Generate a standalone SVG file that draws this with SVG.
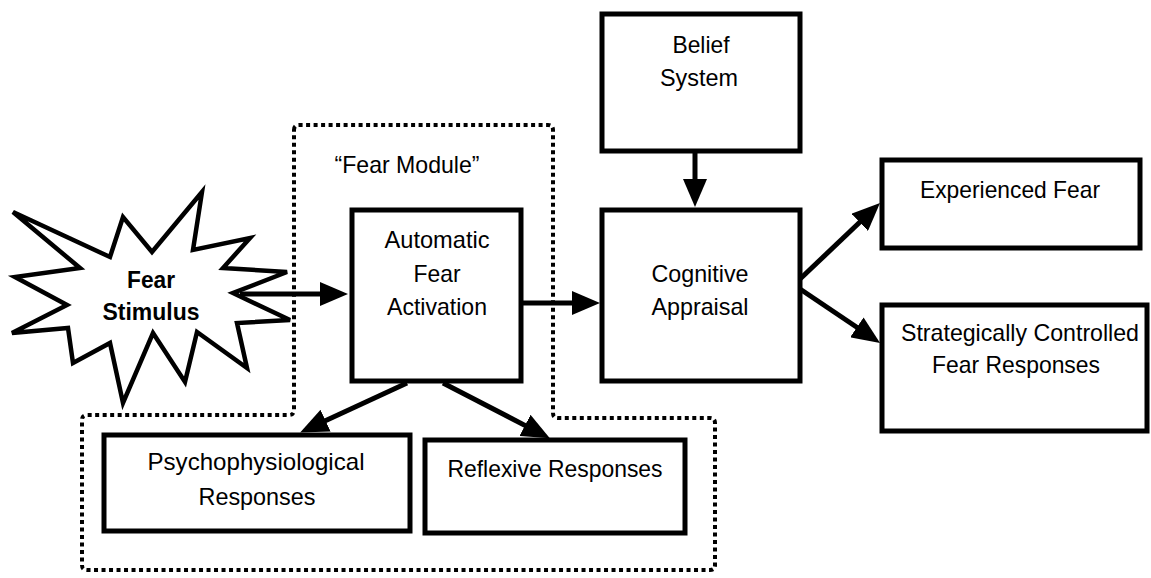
<svg xmlns="http://www.w3.org/2000/svg" width="1151" height="578" viewBox="0 0 1151 578">
<style>
.box{fill:#fff;stroke:#000;stroke-width:5}
.t{font-family:"Liberation Sans",Arial,sans-serif;font-size:24px;fill:#000;text-anchor:middle}
.b{font-weight:bold}
.con{stroke:#000;stroke-width:5;fill:none;marker-end:url(#ah)}
.dot{fill:none;stroke:#000;stroke-width:4;stroke-dasharray:4 3.5}
</style>
<defs>
<marker id="ah" markerUnits="userSpaceOnUse" viewBox="0 0 28 24" refX="8" refY="12" markerWidth="28" markerHeight="24" orient="auto">
<path d="M0,0 L28,12 L0,24 z" fill="#000"/>
</marker>
</defs>
<rect width="1151" height="578" fill="#fff"/>
<g id="fear-module-boundary">
<path class="dot" d="M294,130 Q294,125 299,125 L548,125 Q553,125 553,130 L553,413 Q553,418 558,418 L710,418 Q715,418 715,423 L715,565 Q715,570 710,570 L87,570 Q82,570 82,565 L82,420 Q82,415 87,415 L289,415 Q294,415 294,410 Z"/>
<text class="t" x="407" y="173" textLength="145" lengthAdjust="spacingAndGlyphs">“Fear Module”</text>
</g>
<g id="fear-stimulus">
<path d="M202,192 L193,250 L250,238 L223,268 L287,272 L233,293 L290,320 L237,323 L247,368 L197,332 L185,382 L153,333 L123,403 L110,343 L73,363 L68,328 L12,333 L67,305 L15,277 L80,268 L13,212 L110,257 L123,217 L152,252 Z" fill="#fff" stroke="#000" stroke-width="4.5" stroke-linejoin="miter"/>
<text class="t b" x="151" y="288" textLength="48" lengthAdjust="spacingAndGlyphs">Fear</text>
<text class="t b" x="151" y="320" textLength="97" lengthAdjust="spacingAndGlyphs">Stimulus</text>
</g>
<g id="automatic-fear-activation">
<rect class="box" x="352" y="210" width="169" height="171"/>
<text class="t" x="437" y="248" textLength="105" lengthAdjust="spacingAndGlyphs">Automatic</text>
<text class="t" x="437" y="282" textLength="47" lengthAdjust="spacingAndGlyphs">Fear</text>
<text class="t" x="437" y="315" textLength="100" lengthAdjust="spacingAndGlyphs">Activation</text>
</g>
<g id="belief-system">
<rect class="box" x="602" y="14" width="198" height="137"/>
<text class="t" x="701" y="53" textLength="57" lengthAdjust="spacingAndGlyphs">Belief</text>
<text class="t" x="699" y="86" textLength="78" lengthAdjust="spacingAndGlyphs">System</text>
</g>
<g id="cognitive-appraisal">
<rect class="box" x="602" y="210" width="198" height="171"/>
<text class="t" x="700" y="282" textLength="97" lengthAdjust="spacingAndGlyphs">Cognitive</text>
<text class="t" x="700" y="315" textLength="97" lengthAdjust="spacingAndGlyphs">Appraisal</text>
</g>
<g id="experienced-fear">
<rect class="box" x="882" y="160" width="258" height="88"/>
<text class="t" x="1010" y="198" textLength="180" lengthAdjust="spacingAndGlyphs">Experienced Fear</text>
</g>
<g id="strategically-controlled">
<rect class="box" x="882" y="305" width="265" height="126"/>
<text class="t" x="1020" y="341" textLength="238" lengthAdjust="spacingAndGlyphs">Strategically Controlled</text>
<text class="t" x="1016" y="373" textLength="168" lengthAdjust="spacingAndGlyphs">Fear Responses</text>
</g>
<g id="psychophysiological-responses">
<rect class="box" x="104" y="435" width="306" height="96"/>
<text class="t" x="256" y="470" textLength="217" lengthAdjust="spacingAndGlyphs">Psychophysiological</text>
<text class="t" x="257" y="505" textLength="117" lengthAdjust="spacingAndGlyphs">Responses</text>
</g>
<g id="reflexive-responses">
<rect class="box" x="425" y="440" width="260" height="93"/>
<text class="t" x="555" y="477" textLength="215" lengthAdjust="spacingAndGlyphs">Reflexive Responses</text>
</g>
<g id="connectors">
<line class="con" x1="240" y1="294" x2="328" y2="294"/>
<line class="con" x1="523" y1="303" x2="580" y2="303"/>
<line class="con" x1="695" y1="153" x2="695" y2="187"/>
<line class="con" x1="800" y1="279" x2="865.5" y2="216.8"/>
<line class="con" x1="800" y1="289" x2="863.5" y2="331.8"/>
<line class="con" x1="407" y1="383" x2="318.3" y2="424"/>
<line class="con" x1="443" y1="383" x2="532.1" y2="429.1"/>
</g>
</svg>
